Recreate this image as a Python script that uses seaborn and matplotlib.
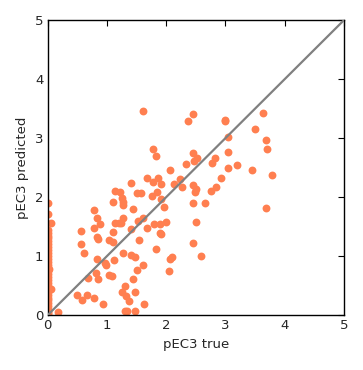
import matplotlib
matplotlib.use("Agg")
import matplotlib.pyplot as plt
import seaborn as sns
import pandas as pd

# valores
zero_true = [0.0] * 34
zero_pred = [1.90, 1.71, 1.56, 0.79, 0.45, 1.45, 1.40, 1.35, 1.30, 1.25, 1.20, 1.15,
             1.10, 1.05, 1.00, 0.95, 0.90, 0.85, 0.75, 0.70, 0.65, 0.60, 0.55, 0.50,
             0.40, 0.35, 0.30, 0.25, 0.20, 0.15, 0.10, 0.06, 0.03, 0.01]
zero_jit = [0.0, 0.0, 0.06, 0.03, 0.06, 0.0, 0.01, 0.0, 0.01, 0.0, 0.0, 0.01,
            0.0, 0.01, 0.0, 0.0, 0.01, 0.0, 0.0, 0.01, 0.0, 0.0, 0.01, 0.0,
            0.0, 0.01, 0.0, 0.0, 0.01, 0.0, 0.0, 0.01, 0.0, 0.0]

true_vals = [1.61, 1.78, 1.83, 1.40, 1.67, 1.78, 1.87, 1.92, 1.13, 1.22, 1.51, 1.57,
             1.76, 1.85, 1.26, 1.27, 1.11, 1.27, 1.91, 1.44, 0.78,
             0.83, 1.61, 0.88, 1.13, 1.20, 1.27, 1.24, 1.52, 1.79, 1.90, 0.57, 0.79,
             1.11, 1.41, 1.67, 1.89, 0.83, 0.85, 0.56, 1.03, 1.11, 1.55, 1.82, 0.62,
             1.27, 1.41, 1.48, 0.84, 1.12, 0.97, 0.98, 1.61, 1.50, 0.81, 1.03, 1.09,
             0.68, 0.85, 1.44, 1.31, 0.50, 0.58, 0.67, 0.79, 1.26, 1.33, 1.37, 1.48,
             0.94, 1.62, 1.30, 1.34, 1.47, 0.17,
             2.45, 2.37, 2.99, 3.00, 3.64, 3.50, 3.69, 3.70, 3.05, 2.46, 2.52, 2.47,
             2.82, 2.78, 3.05, 2.33, 3.20, 3.05, 3.45, 3.79, 2.06, 2.23, 2.27, 2.14,
             2.93, 2.84, 2.75, 2.46, 2.50, 2.49, 2.46, 2.65, 1.96, 3.69,
             2.00, 2.50, 1.92, 2.45, 2.58, 2.09, 2.07, 2.05]
pred_vals = [3.46, 2.81, 2.69, 2.24, 2.33, 2.25, 2.33, 2.23, 2.10, 2.09, 2.07, 2.07,
             2.02, 2.08, 1.99, 1.92, 1.92, 1.87, 1.97, 1.80, 1.78,
             1.65, 1.64, 1.55, 1.57, 1.57, 1.64, 1.57, 1.59, 1.55, 1.55, 1.42, 1.47,
             1.41, 1.46, 1.48, 1.40, 1.33, 1.29, 1.20, 1.27, 1.24, 1.28, 1.13, 1.06,
             1.06, 1.02, 0.98, 0.95, 0.93, 0.89, 0.85, 0.85, 0.76, 0.72, 0.68, 0.67,
             0.63, 0.62, 0.61, 0.50, 0.35, 0.26, 0.35, 0.29, 0.39, 0.33, 0.24, 0.39,
             0.19, 0.19, 0.07, 0.07, 0.07, 0.06,
             3.40, 3.29, 3.31, 3.29, 3.43, 3.15, 2.97, 2.81, 3.02, 2.74, 2.66, 2.62,
             2.67, 2.57, 2.77, 2.56, 2.54, 2.49, 2.46, 2.38, 2.46, 2.30, 2.18, 2.23,
             2.33, 2.18, 2.10, 2.20, 2.14, 2.08, 1.90, 1.90, 1.84, 1.82,
             1.58, 1.58, 1.38, 1.22, 1.00, 0.99, 0.95, 0.75]

df = pd.DataFrame({
    "true": [a + b for a, b in zip(zero_true, zero_jit)] + true_vals,
    "pred": zero_pred + pred_vals,
})

sns.set_style("white")
plt.rcParams["font.family"] = ["DejaVu Sans"]
plt.rcParams["xtick.direction"] = "in"
plt.rcParams["ytick.direction"] = "in"

fig = plt.figure(figsize=(3.63, 3.70), dpi=100)
ax = fig.add_axes([0.131, 0.148, 0.817, 0.798])

sns.scatterplot(data=df, x="true", y="pred", color="#ff7f50", s=32,
                linewidth=0, ax=ax, zorder=2)
ax.plot([0, 5], [0, 5], color="gray", linewidth=1.6, zorder=3)

ax.set_xlim(0, 5)
ax.set_ylim(0, 5)
ax.set_xticks(range(6))
ax.set_yticks(range(6))
ax.tick_params(axis="both", which="both", length=4, width=0.8, color="black",
               labelsize=9.5, top=True, right=True, pad=3)
for sp in ax.spines.values():
    sp.set_color("black")
    sp.set_linewidth(1.0)

ax.set_xlabel("pEC3 true", fontsize=9.5, labelpad=4)
ax.set_ylabel("pEC3 predicted", fontsize=9.5, labelpad=4)

fig.savefig("out.png", dpi=100)
